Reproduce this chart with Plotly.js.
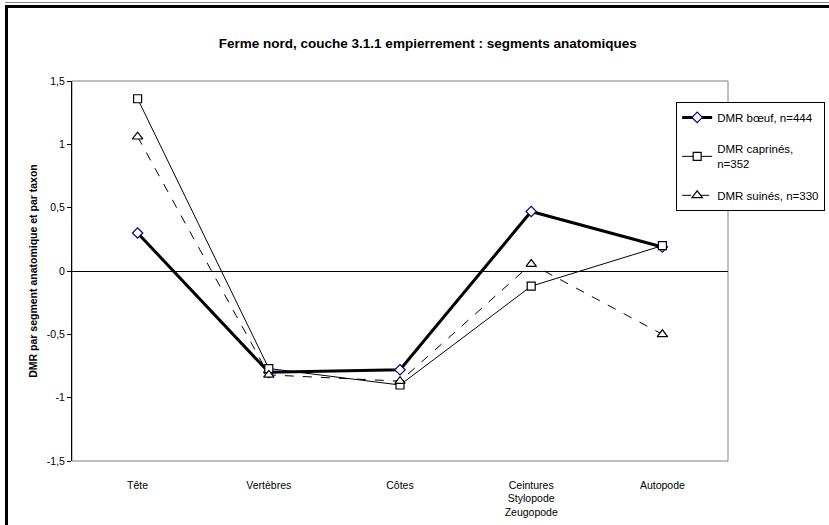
<!DOCTYPE html>
<html>
<head>
<meta charset="utf-8">
<script src="https://cdn.plot.ly/plotly-3.0.1.min.js"></script>
<style>
  html, body { margin: 0; padding: 0; background: #fff; }
  #wrap { position: relative; width: 829px; height: 525px; overflow: hidden; }
  #chart { position: absolute; left: 0; top: 0; width: 829px; height: 525px; }
  #frameLeft { position: absolute; left: 5px; top: 5px; width: 3px; height: 520px; background: #000; pointer-events: none; }
  #frameTopGray { position: absolute; left: 5px; top: 2px; width: 824px; height: 1px; background: #888; pointer-events: none; }
  #frameTopBlack { position: absolute; left: 5px; top: 5px; width: 824px; height: 3px; background: #000; pointer-events: none; }
</style>
</head>
<body>
<div id="wrap">
  <div id="chart"></div>
  <div id="frameTopGray"></div>
  <div id="frameTopBlack"></div>
  <div id="frameLeft"></div>
</div>
<script>
const categories = ["Tête", "Vertèbres", "Côtes", "Ceintures<br>Stylopode<br>Zeugopode", "Autopode"];
const boeuf = [0.30, -0.80, -0.78, 0.47, 0.19];
const caprines = [1.36, -0.77, -0.90, -0.12, 0.20];
const suines = [1.06, -0.82, -0.87, 0.055, -0.50];
const seriesNames = ["DMR bœuf, n=444", "DMR caprinés,<br>n=352", "DMR suinés, n=330"];
const yTickVals = [-1.5, -1, -0.5, 0, 0.5, 1, 1.5];
const yTickText = ["-1,5", "-1", "-0,5", "0", "0,5", "1", "1,5"];
const chartTitle = "Ferme nord, couche 3.1.1 empierrement : segments anatomiques";
const yTitle = "DMR par segment anatomique et par taxon";

const font = "Liberation Sans, Arial, sans-serif";

const traces = [
  {
    x: categories, y: boeuf, name: seriesNames[0], type: "scatter", mode: "lines+markers",
    legendgroup: "a",
    line: { color: "#000000", width: 3 },
    marker: { symbol: "diamond", size: 8, color: "#ffffff", line: { width: 1.2, color: "#000080" } }
  },
  {
    x: categories, y: caprines, name: seriesNames[1], type: "scatter", mode: "lines+markers",
    legendgroup: "b",
    line: { color: "#000000", width: 1 },
    marker: { symbol: "square", size: 8, color: "#ffffff", line: { width: 1.2, color: "#000000" } }
  },
  {
    x: categories, y: suines, name: seriesNames[2], type: "scatter", mode: "lines+markers",
    legendgroup: "c",
    line: { color: "#000000", width: 1, dash: "dash" },
    marker: { symbol: "triangle-up", size: 9, color: "#ffffff", line: { width: 1.2, color: "#000000" } }
  }
];

const layout = {
  width: 829, height: 525,
  margin: { l: 72, r: 101, t: 81, b: 64, autoexpand: false },
  paper_bgcolor: "#ffffff", plot_bgcolor: "#ffffff",
  font: { family: font, size: 10, color: "#000000" },
  title: {
    text: "<b>" + chartTitle + "</b>",
    font: { family: font, size: 13.5, color: "#000000" },
    x: 0.516, xref: "container", xanchor: "center",
    y: 0.918, yref: "container", yanchor: "middle"
  },
  xaxis: {
    type: "category",
    categoryarray: categories,
    range: [-0.5, 4.5],
    showgrid: false, zeroline: false,
    showline: false,
    ticks: "outside", ticklen: 14, tickcolor: "rgba(0,0,0,0)",
    tickfont: { family: font, size: 10.5, color: "#000000" },
    automargin: false, fixedrange: true
  },
  xaxis2: {
    type: "category",
    categoryarray: categories,
    overlaying: "x", matches: "x",
    anchor: "free", position: 0.5,
    range: [-0.5, 4.5],
    showgrid: false, zeroline: false, showline: false,
    tickson: "boundaries",
    ticks: "outside", ticklen: 4, tickcolor: "#000000", tickwidth: 1,
    showticklabels: false,
    automargin: false
  },
  yaxis: {
    range: [-1.5, 1.5],
    tickvals: yTickVals, ticktext: yTickText,
    showgrid: false,
    zeroline: true, zerolinecolor: "#000000", zerolinewidth: 1,
    showline: true, linecolor: "#000000", linewidth: 1,
    ticks: "outside", ticklen: 4, tickcolor: "#000000",
    tickfont: { family: font, size: 10.5, color: "#000000" },
    title: { text: "<b>" + yTitle + "</b>", font: { family: font, size: 10.5, color: "#000000" }, standoff: 7 },
    automargin: false
  },
  shapes: [
    { type: "rect", xref: "paper", yref: "paper", x0: 0, x1: 1, y0: 0, y1: 1,
      line: { color: "#808080", width: 1 }, layer: "below" }
  ],
  showlegend: true,
  legend: {
    x: 0.921, xanchor: "left", y: 0.945, yanchor: "top",
    bgcolor: "#ffffff", bordercolor: "#000000", borderwidth: 1,
    font: { family: font, size: 11.5, color: "#000000" },
    tracegroupgap: 13,
    itemwidth: 30
  }
};

Plotly.newPlot("chart", traces, layout, { displayModeBar: false, staticPlot: true });
</script>
</body>
</html>
